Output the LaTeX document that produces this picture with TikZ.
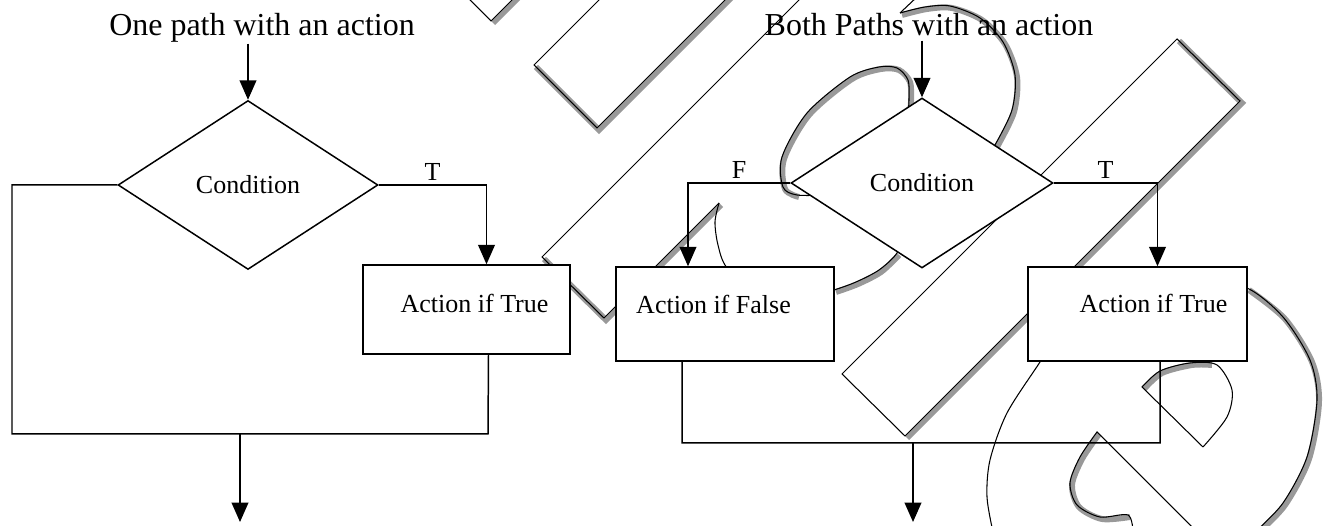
\documentclass[tikz,border=0pt]{standalone}
\usepackage{fontspec}
\setmainfont{Liberation Serif}
\usetikzlibrary{shapes.geometric,arrows.meta,calc}

\begin{document}
\begin{tikzpicture}[
    x=0.02cm, y=-0.02cm,
    line width=0.85pt,
    %
    cond/.style={draw=black, diamond, fill=white, inner sep=0pt, aspect=1.54,
                 font=\fontsize{14.8}{16}\selectfont},
    act/.style={draw=black, rectangle, fill=white, minimum height=1.88cm},
    lbl/.style={font=\fontsize{14.8}{16}\selectfont},
    ttl/.style={anchor=base, inner sep=0pt, font=\fontsize{18.2}{20}\selectfont},
    tag/.style={above, inner sep=2pt, font=\fontsize{14.8}{16}\selectfont},
    %
    pre/.style={-{Triangle[width=9.5pt,length=11pt]}},
    wm/.style={line width=0.6pt},
    wmshade/.style={draw=black!40, line width=3.4pt, shift={(2,2)}}
    ]

    \useasboundingbox (0,0) rectangle (1323,526);

    % watermark
    \begin{scope}
    \clip (0,0) rectangle (1323,526);
    \draw[wmshade] (491,21) -- (518,-6);
    \draw[wmshade] (534,65) -- (597,128) -- (731,-6);
    \draw[wmshade] (542,257) -- (604,318) -- (719,203);
    \draw[wmshade] plot[smooth] coordinates {(834,290) (856,282) (879,270) (897,253)};
    \draw[wmshade] plot[smooth] coordinates {(797,195) (783,187) (782,157) (807,113) (850,77) (879,67) (897,68) (908,80) (909,100) (908,108)};
    \draw[wmshade] plot[smooth] coordinates {(900,13) (925,7) (950,6) (980,18) (1003,42) (1015,75) (1012,110) (995,145)};
    \draw[wmshade] (1177,39) -- (1240,101) -- (905,436);
    \draw[wmshade] plot[smooth] coordinates {(1247,288) (1283,317) (1310,360) (1317,400) (1307,457) (1283,503) (1255,532)};
    \draw[wmshade] plot[smooth] coordinates {(1142,387) (1160,371) (1190,363) (1210,363)};
    \draw[wmshade] plot[smooth] coordinates {(1097,432) (1080,457) (1070,483) (1077,505) (1100,517) (1128,515)};
    %
    \draw[wm] (466,-4) -- (491,21) -- (516,-4);
    \draw[wm] (603,-4) -- (534,65) -- (597,128) -- (729,-4);
    \draw[wm] (803,-4) -- (542,257) -- (604,318) -- (719,203);
    \draw[wm] plot[smooth] coordinates {(719,203) (715,222) (718,245) (727,268) (760,300)};
    \draw[wm] plot[smooth] coordinates {(800,300) (834,290) (856,282) (879,270) (897,253) (905,230)};
    \draw[wm] plot[smooth] coordinates {(825,195) (797,195) (783,187) (782,157) (807,113) (850,77) (879,67) (897,68) (908,80) (909,100) (908,115)};
    \draw[wm] (918,-4) -- (900,13);
    \draw[wm] plot[smooth] coordinates {(900,13) (925,7) (950,6) (980,18) (1003,42) (1015,75) (1012,110) (995,145) (985,160)};
    \draw[wm] (1177,39) -- (1240,101) -- (905,436) -- (842,374) -- cycle;
    \draw[wm] plot[smooth] coordinates {(1200,280) (1247,288) (1283,317) (1310,360) (1317,400) (1307,457) (1283,503) (1255,532)};
    \draw[wm] plot[smooth] coordinates {(1060,330) (1040,362) (1007,413) (990,460) (987,497) (993,532)};
    \draw[wm] (1203,447) -- (1142,387) -- plot[smooth] coordinates {(1142,387) (1160,371) (1190,363) (1217,365) (1232,390) (1227,417) (1203,447)};
    \draw[wm] (1196,531) -- (1097,432) -- plot[smooth] coordinates {(1097,432) (1080,457) (1070,483) (1077,505) (1100,517) (1128,515) (1133,532)};
    \end{scope}

    % one path with an action
    \node[ttl]  (ltitle) at (262,36) {One path with an action};
    \node[cond, minimum width=5.2cm, minimum height=3.38cm] (lcond) at (248,185) {Condition};
    \node[act, minimum width=4.14cm, minimum height=1.78cm,
          label={[lbl, xshift=0.16cm, yshift=0.12cm]center:Action if True}] (ltrue) at (466.5,309.5) {};
    %
    \draw[pre] (lcond.north |- ltitle.south) -- (lcond.north);
    \draw[pre] (lcond.east) -| node[tag, pos=0.25] {T} ($(ltrue.north)+(20,0)$);
    \coordinate (lcorner) at (12,434);
    \coordinate (ljoin)   at (488,434);
    \draw (lcond.west) -| (lcorner) -- (ljoin) -- ($(ltrue.south)+(22,0)$);
    \coordinate (lend) at (240,522);
    \draw[pre] (lend |- ljoin) -- (lend);

    % both paths with an action
    \node[ttl]  (rtitle) at (929,36) {Both Paths with an action};
    \node[cond, minimum width=5.24cm, minimum height=3.4cm] (rcond) at (922,183) {Condition};
    \node[act, minimum width=4.36cm,
          label={[lbl, xshift=-0.23cm, yshift=0.19cm]center:Action if False}] (rfalse) at (725,314) {};
    \node[act, minimum width=4.38cm,
          label={[lbl, xshift=0.32cm, yshift=0.21cm]center:Action if True}] (rtrue) at (1137.5,314) {};
    %
    \draw[pre] ([yshift=-2pt]rcond.north |- rtitle.south) -- (rcond.north);
    \draw[pre] (rcond.west) -| node[tag, pos=0.25] {F} ($(rfalse.north)+(-37,0)$);
    \draw[pre] (rcond.east) -| node[tag, pos=0.25] {T} ($(rtrue.north)+(20,0)$);
    \coordinate (rleft)  at (682,443);
    \coordinate (rright) at (1160,443);
    \draw ($(rfalse.south)+(-43,0)$) -- (rleft) -- (rright) -- ($(rtrue.south)+(22.5,0)$);
    \coordinate (rend) at (913,522);
    \draw[pre] (rend |- rleft) -- (rend);
\end{tikzpicture}
\end{document}
